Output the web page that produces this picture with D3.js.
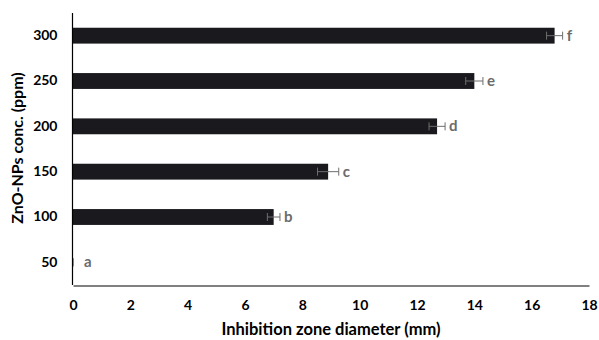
<!DOCTYPE html>
<html lang="en">
<head>
    <meta charset="UTF-8">
    <title>ZnO-NPs inhibition zone</title>
    <script src="https://cdnjs.cloudflare.com/ajax/libs/d3/7.8.5/d3.min.js"></script>
    <style>
        body { margin: 0; background: #fff; }
        svg text { font-family: Lato, "Open Sans", sans-serif; font-weight: bold; }
        .axis text { font-size: 14px; fill: #000; }
        .axis .tick line { display: none; }
    </style>
</head>
<body>
<script>
    // data
    const concs = ['50', '100', '150', '200', '250', '300']
    const zones = [0, 7.0, 8.9, 12.7, 14.0, 16.8]
    const errs = [0, 0.22, 0.37, 0.28, 0.30, 0.28]
    const letters = ['a', 'b', 'c', 'd', 'e', 'f']
    const xTicks = [0, 2, 4, 6, 8, 10, 12, 14, 16, 18]

    const width = 599
    const height = 340
    const margin = { top: 13, right: 10, bottom: 55, left: 73 }

    const svg = d3.select('body').append('svg')
        .attr('width', width).attr('height', height)

    const x = d3.scaleLinear()
        .domain([0, 18])
        .range([margin.left, 589])

    // 50 at bottom, 300 at top
    const y = d3.scaleBand()
        .domain(concs.slice().reverse())
        .range([margin.top, height - margin.bottom])
        .paddingInner(0.65)
        .paddingOuter(0.325)

    // bars
    svg.selectAll('rect.bar')
        .data(concs)
        .enter()
        .append('rect')
        .attr('class', 'bar')
        .attr('x', x(0))
        .attr('y', d => y(d))
        .attr('width', (d, i) => x(zones[i]) - x(0))
        .attr('height', y.bandwidth())
        .attr('fill', '#1a1a1e')

    // error bars
    const eb = svg.append('g').attr('stroke', '#6e6e6e').attr('stroke-width', 1)
    concs.forEach((c, i) => {
        const cy = y(c) + y.bandwidth() / 2
        const x0 = x(zones[i] - errs[i]), x1 = x(zones[i] + errs[i])
        eb.append('line').attr('x1', x0).attr('x2', x1).attr('y1', cy).attr('y2', cy)
        eb.append('line').attr('x1', x0).attr('x2', x0).attr('y1', cy - 4).attr('y2', cy + 4)
        eb.append('line').attr('x1', x1).attr('x2', x1).attr('y1', cy - 4).attr('y2', cy + 4)
    })

    // significance letters
    svg.selectAll('text.sig')
        .data(concs)
        .enter()
        .append('text')
        .attr('class', 'sig')
        .attr('x', (d, i) => x(zones[i] + errs[i]) + (zones[i] === 0 ? 11 : 4))
        .attr('y', d => y(d) + y.bandwidth() / 2 + 5)
        .attr('font-size', 15)
        .attr('fill', '#6b6b6b')
        .text((d, i) => letters[i])

    // x axis
    const xAxis = svg.append('g')
        .attr('class', 'axis')
        .attr('transform', 'translate(0,' + (height - margin.bottom + 0.5) + ')')
        .call(d3.axisBottom(x).tickValues(xTicks).tickSize(0).tickPadding(15))
    xAxis.select('.domain').attr('stroke', '#808080').attr('stroke-width', 2)

    // y axis
    const yAxis = svg.append('g')
        .attr('class', 'axis')
        .attr('transform', 'translate(' + (margin.left - 0.5) + ',0)')
        .call(d3.axisLeft(y).tickSize(0).tickPadding(15))
    yAxis.select('.domain').attr('stroke', '#000').attr('stroke-width', 1.2)
        .attr('d', 'M0,' + margin.top + 'V' + (height - margin.bottom))

    // titles
    svg.append('text')
        .attr('x', (x(0) + x(18)) / 2)
        .attr('y', 335)
        .attr('text-anchor', 'middle')
        .attr('font-size', 16.5)
        .text('Inhibition zone diameter (mm)')

    svg.append('text')
        .attr('transform', 'translate(23,148) rotate(-90)')
        .attr('text-anchor', 'middle')
        .attr('font-size', 16)
        .text('ZnO-NPs conc. (ppm)')
</script>
</body>
</html>
